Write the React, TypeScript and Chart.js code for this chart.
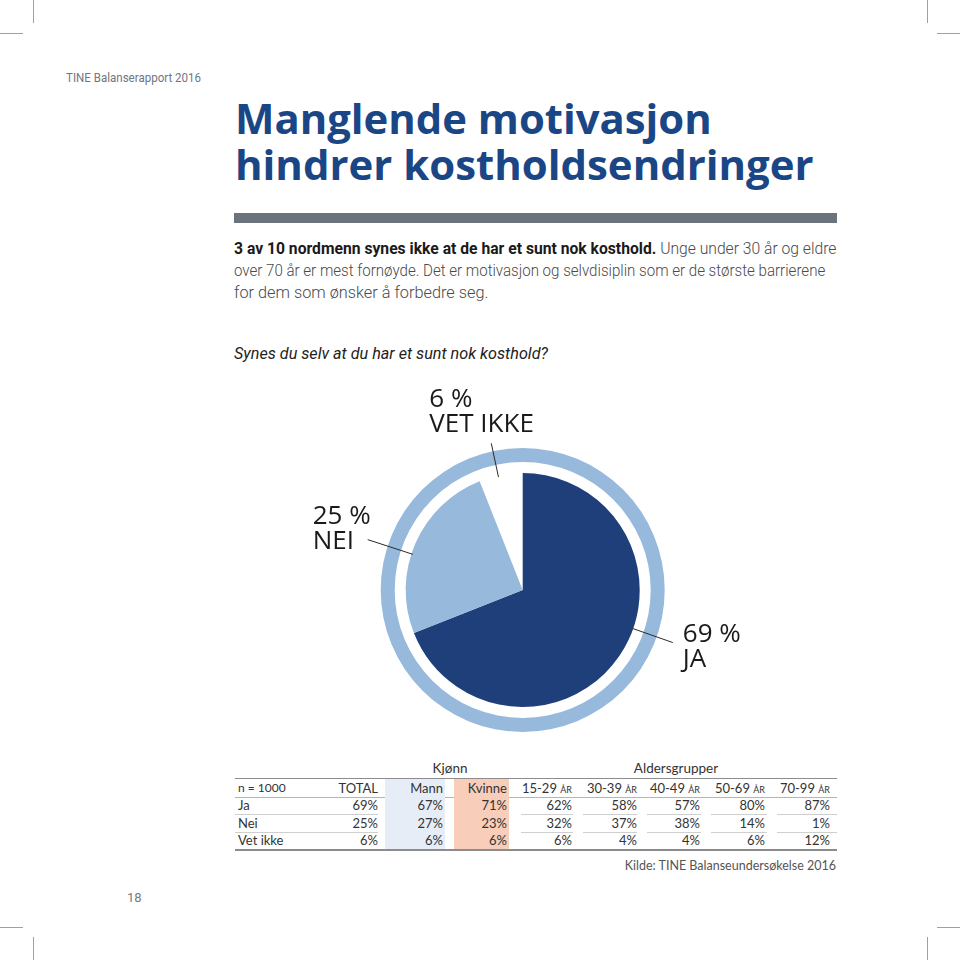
import React, { useEffect, useLayoutEffect, useRef } from "react";
import { Chart, registerables } from "chart.js";

Chart.register(...registerables);

// ---------- data ----------
const sliceLabels = ["JA", "NEI", "VET IKKE"];
const sliceValues = [69, 25, 6];

const rowLabels = ["Ja", "Nei", "Vet ikke"];
const sampleLabel = "n = 1000";
const columnHeaders = ["TOTAL", "Mann", "Kvinne", "15-29 år", "30-39 år", "40-49 år", "50-69 år", "70-99 år"];
const totalValues = [69, 25, 6];
const mannValues = [67, 27, 6];
const kvinneValues = [71, 23, 6];
const age15to29 = [62, 32, 6];
const age30to39 = [58, 37, 4];
const age40to49 = [57, 38, 4];
const age50to69 = [80, 14, 6];
const age70to99 = [87, 1, 12];
const columnValues = [totalValues, mannValues, kvinneValues, age15to29, age30to39, age40to49, age50to69, age70to99];

// ---------- styles ----------
const NAVY = "#1f3f7b";
const LIGHT = "#97b9dc";
const TITLE_BLUE = "#1b4686";

function Fit({ x, y, w, h, children, style }: any) {
  const ref = useRef<HTMLDivElement>(null);
  useLayoutEffect(() => {
    const el = ref.current;
    if (!el) return;
    const ow = el.offsetWidth;
    if (ow > 0) el.style.transform = `scaleX(${w / ow})`;
  });
  return (
    <div
      ref={ref}
      style={{
        position: "absolute",
        left: x,
        top: y,
        height: h,
        lineHeight: h + "px",
        whiteSpace: "nowrap",
        transformOrigin: "0 0",
        ...style,
      }}
    >
      {children}
    </div>
  );
}

function PieChart() {
  const ref = useRef<HTMLCanvasElement>(null);
  useEffect(() => {
    const canvas = ref.current;
    if (!canvas) return;
    const leaderOuter = [159, 163, 150];
    const labelPlugin = {
      id: "leaderLabels",
      afterDatasetsDraw(chart: any) {
        const meta = chart.getDatasetMeta(2);
        const ctx = chart.ctx;
        ctx.save();
        meta.data.forEach((arc: any, i: number) => {
          const p = arc.getProps(["x", "y", "startAngle", "endAngle", "outerRadius"], true);
          const a = p.startAngle + 0.44 * (p.endAngle - p.startAngle);
          const r1 = p.outerRadius - 1.5;
          const r2 = leaderOuter[i];
          const sx = p.x + Math.cos(a) * r1;
          const sy = p.y + Math.sin(a) * r1;
          const ex = p.x + Math.cos(a) * r2;
          const ey = p.y + Math.sin(a) * r2;
          ctx.strokeStyle = "#2a2a2a";
          ctx.lineWidth = 1;
          ctx.beginPath();
          ctx.moveTo(sx, sy);
          ctx.lineTo(ex, ey);
          ctx.stroke();
          let lx = 0, b1 = 0;
          if (i === 0) { lx = ex + 10; b1 = ey - 1; }
          else if (i === 1) { lx = ex - 55; b1 = ey - 16; }
          else { lx = ex - 62; b1 = ey - 36; }
          ctx.fillStyle = "#1a1a1a";
          ctx.font = '500 26px "Open Sans"';
          ctx.textAlign = "left";
          ctx.textBaseline = "alphabetic";
          ctx.fillText(`${sliceValues[i]} %`, lx, b1);
          ctx.fillText(sliceLabels[i], lx, b1 + 25);
        });
        ctx.restore();
      },
    };
    const chart = new Chart(canvas, {
      type: "pie",
      data: {
        labels: sliceLabels,
        datasets: [
          { data: [100], backgroundColor: [LIGHT], weight: 14, borderWidth: 0, hoverOffset: 0, offset: 0 } as any,
          { data: [100], backgroundColor: ["rgba(0,0,0,0)"], weight: 11, borderWidth: 0, hoverOffset: 0, offset: 0 } as any,
          {
            data: sliceValues,
            backgroundColor: [NAVY, LIGHT, "rgba(0,0,0,0)"],
            weight: 117,
            borderWidth: 0,
            hoverOffset: 0,
            offset: 0,
          } as any,
        ],
      },
      options: {
        animation: false,
        responsive: false,
        events: [],
        layout: { padding: { left: 80.7, top: 78, right: 135.3, bottom: 18 } },
        plugins: { legend: { display: false }, tooltip: { enabled: false } },
      } as any,
      plugins: [labelPlugin],
    });
    return () => chart.destroy();
  }, []);
  return (
    <div style={{ position: "absolute", left: 300, top: 370, width: 500, height: 380 }}>
      <canvas ref={ref} width={500} height={380} style={{ width: 500, height: 380 }} />
    </div>
  );
}

function Line({ x1, x2, y, color, t = 1 }: any) {
  return <div style={{ position: "absolute", left: x1, top: y, width: x2 - x1, height: t, background: color }} />;
}

function Table() {
  const rightEdges = [378, 443, 507, 572, 637, 700, 765, 830];
  const headerTop = 779;
  const rowTops = [797, 814.5, 832];
  const rowH = 17.5;
  const txt: any = { fontFamily: "Lato, 'Open Sans', sans-serif", fontSize: 13, color: "#333" };
  const segs = [[235, 378], [521, 573], [583, 637], [647, 701], [711, 767], [777, 837]];
  return (
    <>
      <div style={{ position: "absolute", left: 400, width: 100, top: 760, height: 17, lineHeight: "17px", textAlign: "center", ...txt, fontSize: 13.5 }}>Kjønn</div>
      <div style={{ position: "absolute", left: 600, width: 152, top: 760, height: 17, lineHeight: "17px", textAlign: "center", ...txt, fontSize: 13.5 }}>Aldersgrupper</div>
      <Line x1={235} x2={837} y={778} color="#8c8c8c" />
      <Line x1={235} x2={837} y={796.5} color="#b4b4b4" />
      {[814, 831.5].map((y, k) => segs.map((s, j) => <Line key={k + "-" + j} x1={s[0]} x2={s[1]} y={y} color="#cfcfcf" />))}
      <div style={{ position: "absolute", left: 385, width: 60, top: 779, height: 70, background: "#e6edf7" }} />
      <div style={{ position: "absolute", left: 454, width: 55, top: 779, height: 70, background: "#f8cdb9" }} />
      <Line x1={235} x2={837} y={849} color="#8c8c8c" t={1.5} />
      <div style={{ position: "absolute", left: 238, top: headerTop, height: 18, lineHeight: "18px", ...txt, fontSize: 12 }}>{sampleLabel}</div>
      {columnHeaders.map((h, j) => (
        <div key={h} style={{ position: "absolute", left: rightEdges[j] - 80, width: 80, top: headerTop, height: 18, lineHeight: "18px", textAlign: "right", ...txt, fontVariant: j >= 3 ? "small-caps" : "normal", whiteSpace: "nowrap" }}>{h}</div>
      ))}
      {rowLabels.map((r, i) => (
        <React.Fragment key={r}>
          <div style={{ position: "absolute", left: 238, top: rowTops[i], height: rowH, lineHeight: rowH + "px", ...txt }}>{r}</div>
          {columnValues.map((col, j) => (
            <div key={j} style={{ position: "absolute", left: rightEdges[j] - 60, width: 60, top: rowTops[i], height: rowH, lineHeight: rowH + "px", textAlign: "right", ...txt }}>{col[i]}%</div>
          ))}
        </React.Fragment>
      ))}
      <div style={{ position: "absolute", left: 536, width: 300, top: 858, height: 16, lineHeight: "16px", textAlign: "right", ...txt, fontSize: 12.5, color: "#555" }}>Kilde: TINE Balanseundersøkelse 2016</div>
    </>
  );
}

function CropMarks() {
  const c = "#a0a0a0";
  const v = (x: number, y: number) => <div style={{ position: "absolute", left: x, top: y, width: 1, height: 23, background: c }} />;
  const h = (x: number, y: number) => <div style={{ position: "absolute", left: x, top: y, width: 23, height: 1, background: c }} />;
  return (
    <>
      {v(33, 0)}{h(0, 33)}
      {v(927, 0)}{h(937, 33)}
      {v(33, 937)}{h(0, 927)}
      {v(927, 937)}{h(937, 927)}
    </>
  );
}

export default function App() {
  const para: any = { fontFamily: "Roboto, sans-serif", fontSize: 17, color: "#4a4a4a", fontWeight: 300 };
  const title: any = { fontFamily: "'Open Sans', sans-serif", fontWeight: 700, fontSize: 42, color: TITLE_BLUE };
  return (
    <div style={{ position: "absolute", left: 0, top: 0, width: 960, height: 960, background: "#fff", overflow: "hidden", fontFamily: "Roboto, sans-serif" }}>
      <CropMarks />
      <Fit x={66} y={70} w={135} h={16} style={{ fontFamily: "Roboto, sans-serif", fontSize: 13, color: "#6f7782" }}>TINE Balanserapport 2016</Fit>
      <Fit x={235} y={95} w={477} h={46} style={title}>Manglende motivasjon</Fit>
      <Fit x={235} y={141} w={579} h={46} style={title}>hindrer kostholdsendringer</Fit>
      <div style={{ position: "absolute", left: 234, top: 213, width: 603, height: 10, background: "#6b737c" }} />
      <Fit x={234} y={237} w={602} h={22} style={para}>
        <span style={{ fontWeight: 700, color: "#1a1a1a" }}>3 av 10 nordmenn synes ikke at de har et sunt nok kosthold.</span> Unge under 30 år og eldre
      </Fit>
      <Fit x={234} y={259} w={591} h={22} style={para}>over 70 år er mest fornøyde. Det er motivasjon og selvdisiplin som er de største barrierene</Fit>
      <Fit x={234} y={281} w={254} h={22} style={para}>for dem som ønsker å forbedre seg.</Fit>
      <Fit x={234} y={342} w={314} h={22} style={{ ...para, fontStyle: "italic", fontWeight: 400, color: "#222" }}>Synes du selv at du har et sunt nok kosthold?</Fit>
      <PieChart />
      <Table />
      <div style={{ position: "absolute", left: 127, top: 890, height: 16, lineHeight: "16px", fontFamily: "Roboto, sans-serif", fontSize: 13, color: "#7a7a7a" }}>18</div>
    </div>
  );
}
